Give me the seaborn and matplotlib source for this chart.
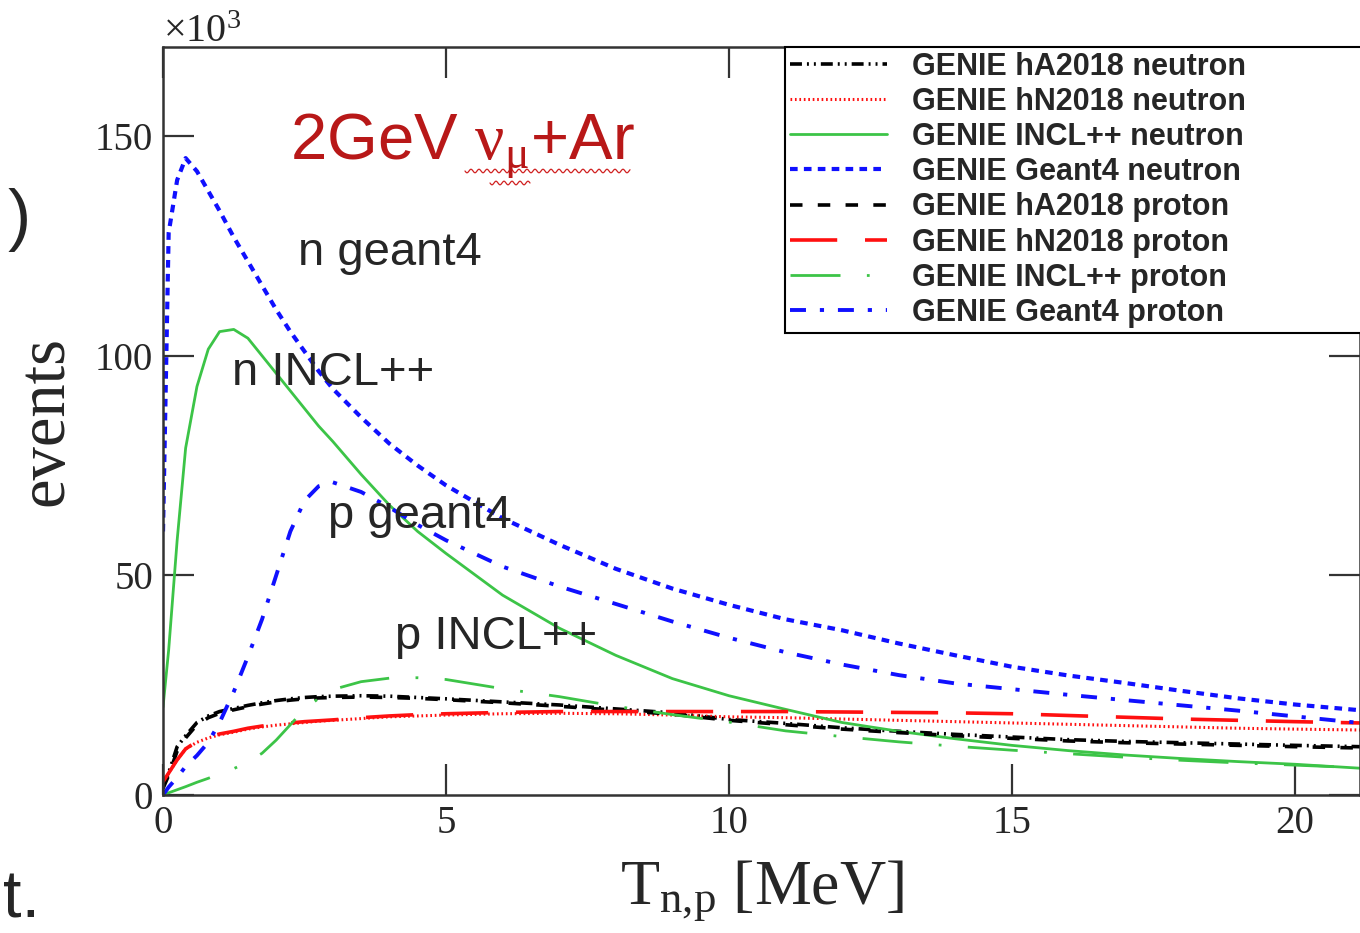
import numpy as np
import pandas as pd
import matplotlib.pyplot as plt
import seaborn as sns

# Kinetic energy [MeV] and events [x10^3]
t_mev = [0, 0.1, 0.25, 0.4, 0.6, 0.8, 1.0, 1.25, 1.5, 1.75, 2, 2.25, 2.5, 2.75, 3,
         3.5, 4, 4.5, 5, 6, 7, 8, 9, 10, 11, 12, 13, 14, 15, 16, 17, 18, 19, 20, 21.15]

ha_neutron = [2, 5, 11, 13.5, 16.5, 18, 19, 19.7, 20.4, 21, 21.5, 21.9, 22.2, 22.4, 22.5,
              22.6, 22.5, 22.2, 21.9, 21.2, 20.5, 19.6, 18.7, 17.2, 16.3, 15.3, 14.5, 13.8,
              13.2, 12.6, 12.2, 11.9, 11.6, 11.3, 11.0]
hn_neutron = [3, 5, 8, 10.5, 12, 13, 13.7, 14.3, 15, 15.5, 15.9, 16.2, 16.5, 16.8, 17,
              17.4, 17.8, 18, 18.2, 18.5, 18.6, 18.5, 18.2, 17.8, 17.6, 17.3, 17, 16.7,
              16.4, 16.1, 15.8, 15.5, 15.2, 15.0, 14.8]
incl_neutron = [20, 33, 58, 79, 93, 101.5, 105.5, 106, 104, 100, 96, 92, 88, 84, 80.5,
                73, 66, 60, 55, 45.5, 38, 31.8, 26.5, 22.6, 19.5, 16.5, 14.5, 12.8,
                11.3, 10.1, 9.1, 8.3, 7.6, 7.0, 6.1]
g4_neutron = [60, 128, 140, 145, 142, 137.5, 133, 127, 121.5, 116, 110.5, 105.5, 101, 96.5,
              92.5, 86, 80, 75, 70.5, 63, 57, 51.5, 47, 43.3, 40, 37.5, 34.5, 31.8,
              29.2, 27.2, 25.5, 23.7, 22, 20.6, 19.3]
ha_proton = [1.5, 4.5, 10, 13, 16, 17.6, 18.6, 19.4, 20.1, 20.7, 21.2, 21.6, 21.9, 22.1, 22.2,
             22.3, 22.2, 22.0, 21.7, 21.0, 20.2, 19.3, 18.4, 17.0, 16.0, 15.0, 14.2, 13.5,
             12.9, 12.3, 11.9, 11.6, 11.3, 11.0, 10.7]
hn_proton = [3, 5, 8, 10.5, 12.2, 13.2, 13.9, 14.5, 15.2, 15.7, 16.1, 16.4, 16.7, 16.9, 17.1,
             17.6, 18, 18.3, 18.5, 18.8, 19, 19, 19, 19, 19, 18.9, 18.8, 18.7,
             18.5, 18.1, 17.7, 17.3, 17, 16.7, 16.4]
incl_proton = [0, 0.5, 1.2, 1.9, 2.9, 3.8, 4.8, 6, 7.5, 9.5, 12.5, 16, 19.5, 22, 24,
               25.8, 26.6, 26.7, 26.3, 24.2, 22.4, 20.2, 18.3, 16.6, 14.6, 13.3, 12.1, 11.1,
               10.2, 9.4, 8.6, 7.9, 7.3, 6.8, 6.2]
g4_proton = [0, 1.8, 4, 6.5, 9, 12, 16.5, 23.5, 31.5, 40, 50, 60, 67, 70.3, 71.2,
             69, 65.5, 61.5, 58, 52, 47.5, 43.5, 39.5, 35.8, 32.5, 29.7, 27.3, 25.4,
             24.1, 22.8, 21.6, 20.4, 19.2, 17.9, 16.4]

labels = ["GENIE hA2018 neutron", "GENIE hN2018 neutron", "GENIE INCL++ neutron",
          "GENIE Geant4 neutron", "GENIE hA2018 proton", "GENIE hN2018 proton",
          "GENIE INCL++ proton", "GENIE Geant4 proton"]
series = [ha_neutron, hn_neutron, incl_neutron, g4_neutron,
          ha_proton, hn_proton, incl_proton, g4_proton]

df = pd.concat([pd.DataFrame({"T": t_mev, "events": s, "model": lab})
                for lab, s in zip(labels, series)])

green = "#3cc447"
styles = {
    "GENIE hA2018 neutron": dict(color="black", ls=(0, (8.6, 3.6, 1.4, 3.6, 1.4, 3.6)), lw=2.6),
    "GENIE hN2018 neutron": dict(color="#ff1010", ls=(0, (1.2, 2.0)), lw=2.2),
    "GENIE INCL++ neutron": dict(color=green, ls="-", lw=2.0),
    "GENIE Geant4 neutron": dict(color="#1010ff", ls=(0, (5.5, 4.5)), lw=3.0),
    "GENIE hA2018 proton": dict(color="black", ls=(0, (9, 11)), lw=2.6),
    "GENIE hN2018 proton": dict(color="#ff1010", ls=(0, (34, 20)), lw=2.6),
    "GENIE INCL++ proton": dict(color=green, ls=(0, (36, 19, 2, 19)), lw=2.0),
    "GENIE Geant4 proton": dict(color="#1010ff", ls=(0, (11.5, 10, 3, 10)), lw=2.8),
}

sns.set_style("ticks")
plt.rcParams["font.family"] = ["Liberation Serif", "DejaVu Serif"]
plt.rcParams["lines.scale_dashes"] = False
plt.rcParams["mathtext.fontset"] = "custom"
plt.rcParams["mathtext.rm"] = "Liberation Serif"
plt.rcParams["mathtext.it"] = "Liberation Serif"

fig = plt.figure(figsize=(13.6, 9.33), dpi=100)
ax = fig.add_axes([163 / 1360, 1 - 795 / 933, 1197 / 1360, 748 / 933])

for lab in labels:
    st = styles[lab]
    sns.lineplot(data=df[df["model"] == lab], x="T", y="events", ax=ax,
                 color=st["color"], linestyle=st["ls"], linewidth=st["lw"],
                 errorbar=None, label=lab)

ax.set_xlim(0, 21.15)
ax.set_ylim(0, 170.3)
ax.set_xticks([0, 5, 10, 15, 20])
ax.set_yticks([0, 50, 100, 150])
ax.tick_params(direction="in", length=22, width=1.6, color="#333333",
               labelsize=28, top=True, right=True, pad=7)
for sp in ax.spines.values():
    sp.set_linewidth(1.8)
    sp.set_color("#333333")

ax.set_xlabel(r"T$_{\mathrm{n{,}p}}$ [MeV]", fontsize=46)
ax.xaxis.set_label_coords(0.5, -0.085)
ax.set_ylabel("events", fontsize=48)
ax.yaxis.set_label_coords(-0.072, 0.5)

fig.text(163 / 1360, 1 - 42 / 933, r"$\times10^{3}$", fontsize=29, va="baseline")

leg = ax.legend(loc="upper left", bbox_to_anchor=(785 / 1360, 1 - 330 / 933, 0.45, 283 / 933),
                bbox_transform=fig.transFigure, mode="expand", frameon=True, fancybox=False,
                prop={"family": "Liberation Sans", "weight": "bold", "size": 22},
                handlelength=3.2, handletextpad=0.8, labelspacing=0.17,
                borderpad=0.15, borderaxespad=0)
leg.get_frame().set_edgecolor("black")
leg.get_frame().set_linewidth(1.5)
leg.get_frame().set_alpha(1)

sans = ["Liberation Sans", "DejaVu Sans"]
fig.text(290 / 1360, 1 - 160 / 933, r"2GeV $\nu_{\mu}$+Ar", fontsize=47, color="#b81818",
         family=sans, va="baseline")
for x0, x1, yy in [(465, 630, 171), (490, 530, 183)]:
    xs = np.linspace(x0, x1, 200)
    ys = yy + 1.8 * np.sin((xs - x0) / 8 * 2 * np.pi)
    fig.add_artist(plt.Line2D(xs / 1360, 1 - ys / 933, color="#d02020", lw=0.9))

ax.text(298 / 1360, 1 - 265 / 933, "n geant4", transform=fig.transFigure, fontsize=34, family=sans, va="baseline")
ax.text(232 / 1360, 1 - 385 / 933, "n INCL++", transform=fig.transFigure, fontsize=34, family=sans, va="baseline")
ax.text(328 / 1360, 1 - 528 / 933, "p geant4", transform=fig.transFigure, fontsize=34, family=sans, va="baseline")
ax.text(395 / 1360, 1 - 649 / 933, "p INCL++", transform=fig.transFigure, fontsize=34, family=sans, va="baseline")

# leftovers from the slide around the plot
fig.text(8 / 1360, 1 - 220 / 933, ")", fontsize=50, family=sans, va="center")
fig.text(3 / 1360, 1 - 918 / 933, "t.", fontsize=48, family=sans, va="baseline")

plt.savefig("out.png", dpi=100)
